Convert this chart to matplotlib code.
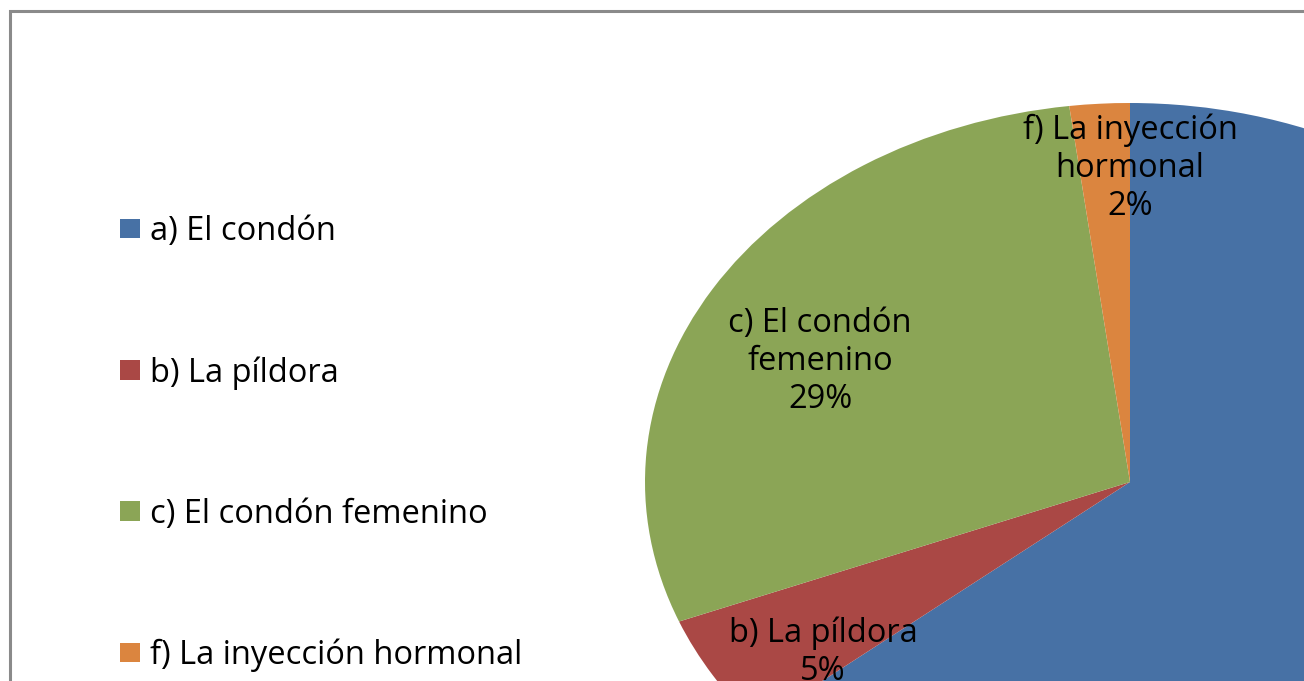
import numpy
import matplotlib
matplotlib.use("Agg")
import matplotlib.pyplot as pyplot
from matplotlib.patches import Rectangle

pyplot.rcParams["font.family"] = ["Open Sans", "DejaVu Sans"]

# data
categories = ["a) El condón", "b) La píldora", "c) El condón femenino", "f) La inyección hormonal"]
sliceLabels = ["a) El condón\n64%", "b) La píldora\n5%", "c) El condón\nfemenino\n29%", "f) La inyección\nhormonal\n2%"]
percentages = [64, 5, 29, 2]

colors = ["#4771A5", "#AA4845", "#8BA556", "#DB853F"]

# label positions in pie units (x, y); the a) label falls outside the picture
labelPositions = [None, (-0.633, -0.45), (-0.639, 0.317), (0.0, 0.827)]

W, H = 1304, 681
figure = pyplot.figure(figsize=(W / 100, H / 100), dpi=100)
axes = figure.add_axes([0, 0, 1, 1])

# pie centre and radii (pixels), pie drawn stretched horizontally
cx, cy = 1130.0, 482.0
rx, ry = 485.0, 379.0

wedges, _ = axes.pie(
    percentages,
    colors=colors,
    startangle=90,
    counterclock=False,
    radius=1.0,
    wedgeprops={"linewidth": 0},
)
axes.set_aspect("auto")
axes.set_xlim(-cx / rx, (W - cx) / rx)
axes.set_ylim(-(H - cy) / ry, cy / ry)
axes.axis("off")

for text, pos in zip(sliceLabels, labelPositions):
    if pos is None:
        continue
    axes.text(pos[0], pos[1], text, ha="center", va="center", fontsize=23.5,
              color="black", linespacing=1.2)

legend = figure.legend(
    wedges, categories,
    loc="upper left",
    bbox_to_anchor=(120 / W, 1 - 215 / H),
    frameon=False,
    fontsize=23.5,
    handlelength=0.62,
    handleheight=0.55,
    handletextpad=0.3,
    labelspacing=3.31,
    borderaxespad=0,
    borderpad=0,
)

# outer chart border, cut by the image edge
figure.patches.append(Rectangle(
    (9.5 / W, -0.5), 2.0, 1.5 - 10.5 / H,
    transform=figure.transFigure, figure=figure,
    fill=False, edgecolor="#8a8a8a", linewidth=2.2,
))

figure.savefig("out.png", dpi=100)
